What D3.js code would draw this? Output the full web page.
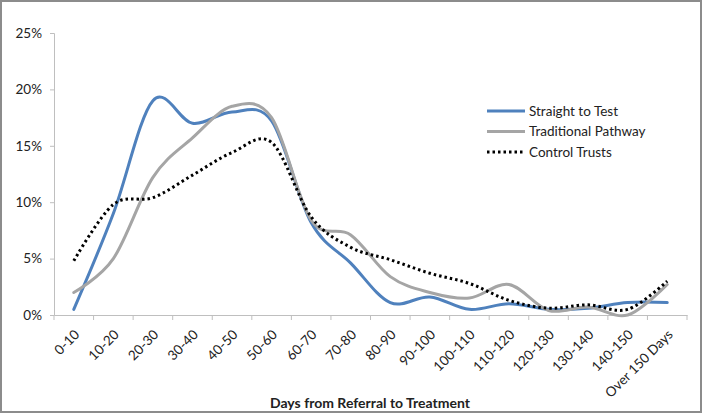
<!DOCTYPE html>
<html><head><meta charset="utf-8">
<script src="https://cdn.jsdelivr.net/npm/d3@7"></script>
<style>body{margin:0;background:#fff}svg{display:block}text{font-family:Lato,"Open Sans",sans-serif;fill:#222}</style>
</head><body><svg id="c" width="702" height="414"></svg>
<script>
const categories = ["0-10","10-20","20-30","30-40","40-50","50-60","60-70","70-80","80-90","90-100","100-110","110-120","120-130","130-140","140-150","Over 150 Days"];
const straightToTest = [0.5, 9.0, 19.0, 17.0, 18.0, 17.2, 8.2, 4.6, 1.1, 1.6, 0.5, 1.0, 0.5, 0.6, 1.1, 1.1];
const traditionalPathway = [2.0, 5.0, 12.2, 15.7, 18.5, 17.5, 8.4, 7.1, 3.4, 2.0, 1.5, 2.7, 0.4, 0.7, 0.0, 2.7];
const controlTrusts = [4.8, 9.8, 10.4, 12.4, 14.4, 15.3, 8.7, 6.0, 4.9, 3.7, 2.8, 1.3, 0.6, 0.9, 0.5, 3.0];
const yTicks = [0, 5, 10, 15, 20, 25];
const seriesNames = ["Straight to Test", "Traditional Pathway", "Control Trusts"];
const xTitle = "Days from Referral to Treatment";

const svg = d3.select("#c");
svg.append("rect").attr("x",1).attr("y",1).attr("width",700).attr("height",411)
  .attr("fill","#fff").attr("stroke","#8c8c8c").attr("stroke-width",2);

const L = 54, R = 687, T = 33, B = 315;
const x = d3.scaleBand().domain(categories).range([L, R]);
const y = d3.scaleLinear().domain([0, 25]).range([B, T]);

// y axis
const ya = svg.append("g").attr("transform",`translate(${L},0)`)
  .call(d3.axisLeft(y).tickValues(yTicks).tickFormat(d=>d+"%").tickSize(4).tickPadding(8));
ya.select(".domain").attr("stroke","#bfbfbf");
ya.selectAll(".tick line").attr("stroke","#bfbfbf");
ya.selectAll(".tick text").style("font-size","13.5px").attr("fill","#333");

// x axis
const xa = svg.append("g").attr("transform",`translate(0,${B})`)
  .call(d3.axisBottom(x).tickSize(0).tickFormat(d=>d));
xa.select(".domain").attr("stroke","#bfbfbf");
xa.selectAll(".tick text").style("font-size","13.5px").attr("fill","#333")
  .attr("text-anchor","end").attr("dy","0.35em")
  .attr("transform","translate(1,15) rotate(-45)");
// boundary tick marks
const bounds = categories.map(c=>x(c)).concat([x(categories[categories.length-1])+x.bandwidth()]);
svg.append("g").selectAll("line").data(bounds).join("line")
  .attr("x1",d=>d).attr("x2",d=>d).attr("y1",B).attr("y2",B+5).attr("stroke","#bfbfbf");

svg.append("text").attr("x",370).attr("y",408).attr("text-anchor","middle")
  .style("font-size","14px").style("font-weight","bold").attr("fill","#111").text(xTitle);

const line = d3.line().x((d,i)=>x(categories[i])+x.bandwidth()/2).y(d=>y(d))
  .curve(d3.curveCatmullRom.alpha(0));

const styles = [
  {data: straightToTest, color:"#4f81bd", dash:null, w:3},
  {data: traditionalPathway, color:"#a5a5a5", dash:null, w:3},
  {data: controlTrusts, color:"#000", dash:"2.5,3", w:3}
];
styles.forEach(s=>{
  svg.append("path").datum(s.data).attr("d",line).attr("fill","none")
    .attr("stroke",s.color).attr("stroke-width",s.w)
    .attr("stroke-dasharray",s.dash).attr("stroke-linecap",s.dash?"butt":"round");
});

// legend
const lg = svg.append("g");
seriesNames.forEach((n,i)=>{
  const yy = 111 + i*20.5;
  const s = styles[i];
  lg.append("line").attr("x1",487).attr("x2",525).attr("y1",yy).attr("y2",yy)
    .attr("stroke",s.color).attr("stroke-width",3).attr("stroke-dasharray",s.dash);
  lg.append("text").attr("x",529).attr("y",yy).attr("dy","0.35em").style("font-size","13.5px").attr("fill","#222").text(n);
});
</script></body></html>
